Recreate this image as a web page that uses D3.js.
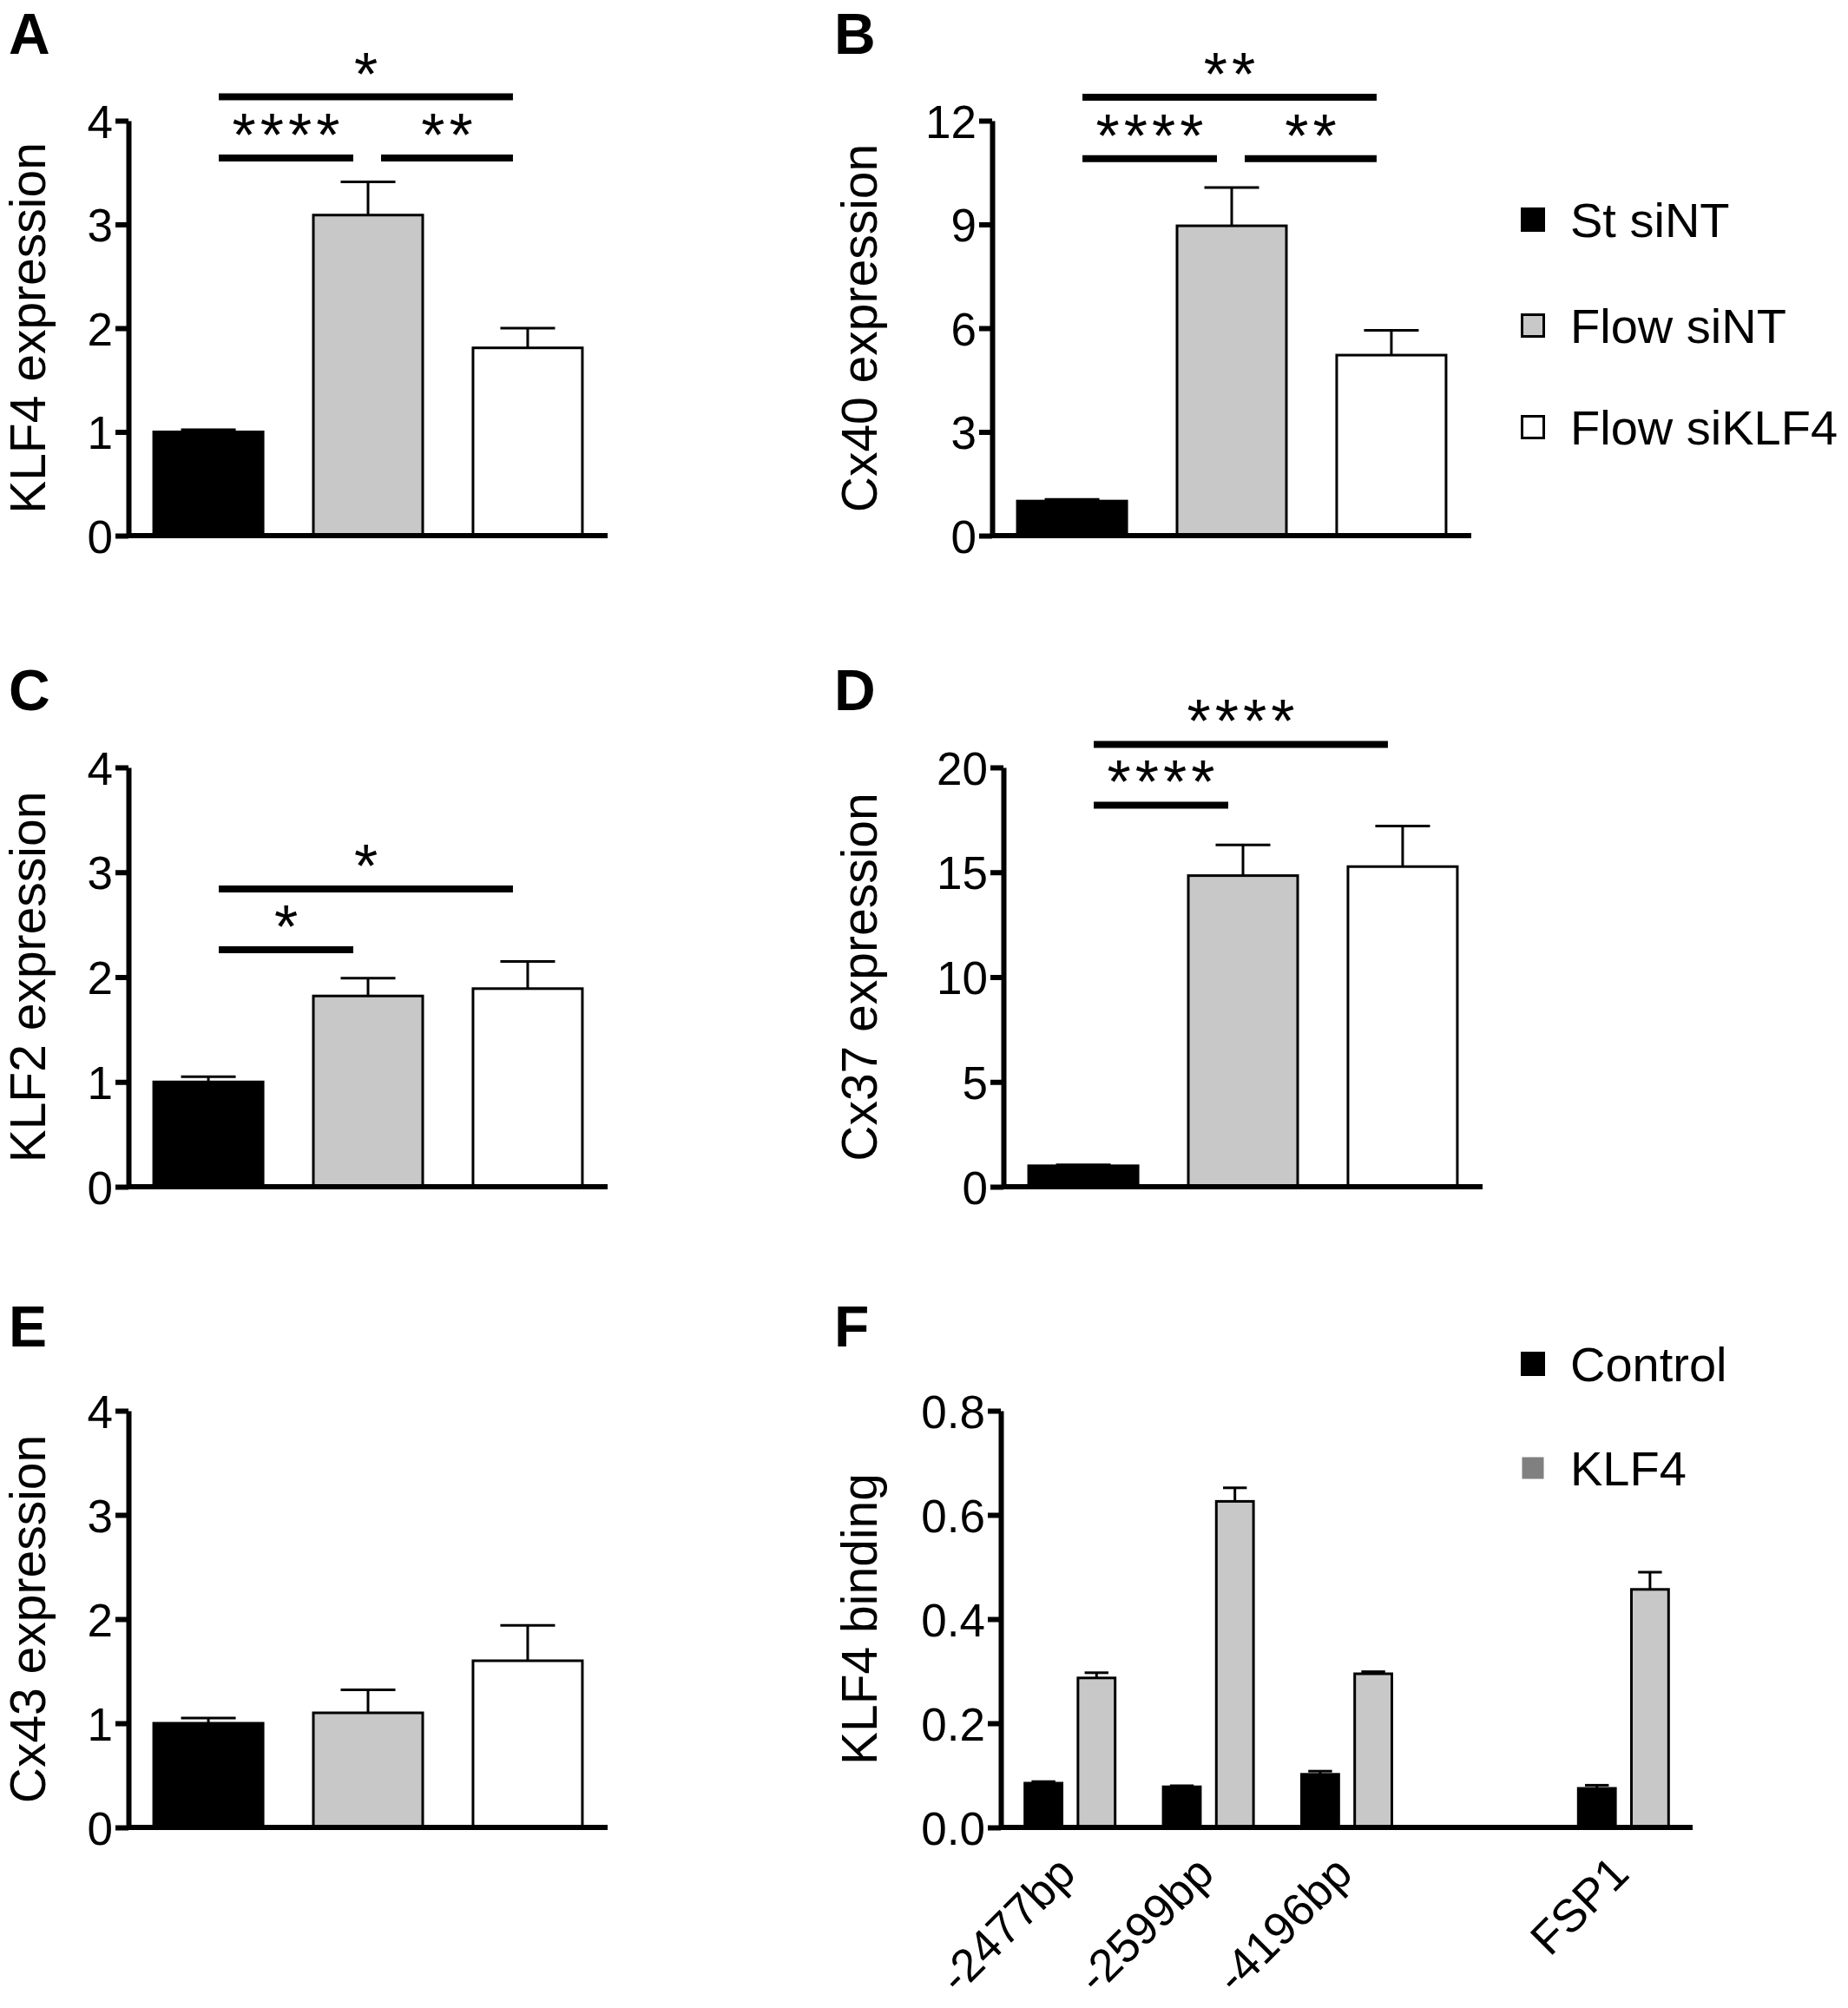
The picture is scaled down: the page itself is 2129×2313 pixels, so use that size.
<!DOCTYPE html>
<html lang="en">
<head>
<meta charset="UTF-8">
<title>KLF4 and connexin expression under flow</title>
<script src="https://d3js.org/d3.v7.min.js"></script>
<style>
  body { margin: 0; padding: 0; background: #ffffff; }
  svg { display: block; font-family: "Liberation Sans", Arial, Helvetica, sans-serif; }
</style>
</head>
<body>
<div id="chart"></div>
<script>
// ---- data (panels A-E share the three conditions) ----
const conditions = ["St siNT", "Flow siNT", "Flow siKLF4"];

const klf4Mean = [1.0, 3.09, 1.81];
const klf4Err  = [0.02, 0.32, 0.19];
const cx40Mean = [1.0, 8.96, 5.22];
const cx40Err  = [0.05, 1.11, 0.72];
const klf2Mean = [1.0, 1.82, 1.89];
const klf2Err  = [0.05, 0.17, 0.26];
const cx37Mean = [1.0, 14.84, 15.27];
const cx37Err  = [0.05, 1.46, 1.93];
const cx43Mean = [1.0, 1.10, 1.60];
const cx43Err  = [0.05, 0.22, 0.34];

// significance brackets: [from condition, to condition, bracket height (data units), label]
const klf4Sig = [[0, 2, 4.23, "*"], [0, 1, 3.64, "****"], [1, 2, 3.64, "**"]];
const cx40Sig = [[0, 2, 12.68, "**"], [0, 1, 10.9, "****"], [1, 2, 10.9, "**"]];
const klf2Sig = [[0, 2, 2.84, "*"], [0, 1, 2.26, "*"]];
const cx37Sig = [[0, 2, 21.1, "****"], [0, 1, 18.2, "****"]];

// panel F: ChIP binding
const sites = ["-2477bp", "-2599bp", "-4196bp", "FSP1"];
const siteSlot = [0, 1, 2, 4];           // FSP1 sits after an empty slot
const chipSeries = ["Control", "KLF4"];
const controlMean = [0.085, 0.078, 0.102, 0.075];
const controlErr  = [0.003, 0.002, 0.006, 0.006];
const klf4BindMean = [0.287, 0.626, 0.295, 0.457];
const klf4BindErr  = [0.010, 0.026, 0.004, 0.033];

// ---- styles / layout ----
const W = 2129, H = 2313;
const condFill = ["#000000", "#c8c8c8", "#ffffff"];
const chipFill = ["#000000", "#c8c8c8"];
const chipLegendFill = ["#000000", "#808080"];
const rows = [[139, 617], [884, 1367], [1625, 2105]];   // [top tick, zero line]
const plotW = 552;
const tickFont = 53, labelFont = 57, legendFont = 56;

const svg = d3.select("#chart").append("svg")
    .attr("width", W).attr("height", H)
    .attr("viewBox", `0 0 ${W} ${H}`);

svg.append("rect").attr("width", W).attr("height", H).attr("fill", "#fff");

function letter(t, x, y) {
  svg.append("text").attr("x", x).attr("y", y)
      .attr("font-size", 66).attr("font-weight", "bold").text(t);
}

function yAxis(g, y, axisX, ticks, fmt) {
  const ax = g.append("g")
      .attr("transform", `translate(${axisX},0)`)
      .call(d3.axisLeft(y).tickValues(ticks).tickFormat(fmt)
        .tickSize(15).tickSizeOuter(0).tickPadding(3));
  ax.select(".domain").attr("stroke", "#000").attr("stroke-width", 6);
  ax.selectAll(".tick line").attr("stroke", "#000").attr("stroke-width", 6);
  ax.selectAll(".tick text").attr("font-size", tickFont).attr("fill", "#000")
      .attr("font-family", null).attr("dy", "0.36em");
  return ax;
}

function yLabel(text, x, cy) {
  svg.append("text")
      .attr("transform", `translate(${x},${cy}) rotate(-90)`)
      .attr("text-anchor", "middle")
      .attr("font-size", labelFont)
      .text(text);
}

function barPanel(p) {
  const [top, zero] = rows[p.row];
  const g = svg.append("g");
  const y = d3.scaleLinear().domain([0, p.yMax]).range([zero, top]);
  const x = d3.scaleBand().domain(conditions)
      .range([p.axisX, p.axisX + plotW])
      .paddingInner(0.315).paddingOuter(0.158);
  const bw = x.bandwidth();
  const cx = i => x(conditions[i]) + bw / 2;

  // error bars (upper only), drawn under the bars so the stem starts at the top edge
  const eb = g.append("g").attr("stroke", "#000").attr("stroke-width", 3);
  conditions.forEach((c, i) => {
    const yt = y(p.mean[i] + p.err[i]);
    eb.append("line").attr("x1", cx(i)).attr("x2", cx(i))
        .attr("y1", y(p.mean[i])).attr("y2", yt);
    eb.append("line").attr("x1", cx(i) - bw * 0.25).attr("x2", cx(i) + bw * 0.25)
        .attr("y1", yt).attr("y2", yt);
  });

  g.selectAll("rect.bar").data(conditions).join("rect")
      .attr("class", "bar")
      .attr("x", d => x(d))
      .attr("width", bw)
      .attr("y", (d, i) => y(p.mean[i]))
      .attr("height", (d, i) => y(0) - y(p.mean[i]))
      .attr("fill", (d, i) => condFill[i])
      .attr("stroke", "#000").attr("stroke-width", 3);

  yAxis(g, y, p.axisX, p.ticks, d3.format("d"));
  g.append("line").attr("x1", p.axisX).attr("x2", p.axisX + plotW)
      .attr("y1", y(0)).attr("y2", y(0))
      .attr("stroke", "#000").attr("stroke-width", 6);

  (p.sig || []).forEach(([a, b, h, lab]) => {
    const x1 = cx(a) + (a === 0 ? 12 : 15), x2 = cx(b) - 17, yy = y(h);
    g.append("line").attr("x1", x1).attr("x2", x2).attr("y1", yy).attr("y2", yy)
        .attr("stroke", "#000").attr("stroke-width", 8);
    g.append("text").attr("x", (x1 + x2) / 2 + 2.5).attr("y", yy - 2)
        .attr("text-anchor", "middle").attr("font-size", 70)
        .attr("letter-spacing", 5).text(lab);
  });

  yLabel(p.label, p.labelX, (top + zero) / 2);
}

function legend(names, fills, x, ys) {
  names.forEach((n, i) => {
    svg.append("rect").attr("x", x + 1.5).attr("y", ys[i] - 12.5)
        .attr("width", 25).attr("height", 25)
        .attr("fill", fills[i]).attr("stroke", fills[i] === "#808080" ? "none" : "#000")
        .attr("stroke-width", 3);
    svg.append("text").attr("x", x + 57).attr("y", ys[i])
        .attr("dy", "0.36em").attr("font-size", legendFont).text(n);
  });
}

// ---- panels A-E ----
const panels = [
  { id: "A", row: 0, axisX: 148,  labelX: 52,   label: "KLF4 expression", mean: klf4Mean, err: klf4Err, yMax: 4,  ticks: [0, 1, 2, 3, 4],     sig: klf4Sig },
  { id: "B", row: 0, axisX: 1143, labelX: 1010, label: "Cx40 expression", mean: cx40Mean, err: cx40Err, yMax: 12, ticks: [0, 3, 6, 9, 12],    sig: cx40Sig },
  { id: "C", row: 1, axisX: 148,  labelX: 52,   label: "KLF2 expression", mean: klf2Mean, err: klf2Err, yMax: 4,  ticks: [0, 1, 2, 3, 4],     sig: klf2Sig },
  { id: "D", row: 1, axisX: 1156, labelX: 1010, label: "Cx37 expression", mean: cx37Mean, err: cx37Err, yMax: 20, ticks: [0, 5, 10, 15, 20],  sig: cx37Sig },
  { id: "E", row: 2, axisX: 148,  labelX: 52,   label: "Cx43 expression", mean: cx43Mean, err: cx43Err, yMax: 4,  ticks: [0, 1, 2, 3, 4] }
];
panels.forEach(barPanel);

legend(conditions, condFill, 1752, [253, 375, 492]);

// ---- panel F ----
(function () {
  const [top, zero] = rows[2];
  const axisX = 1153, axisEnd = 1950;
  const g = svg.append("g");
  const y = d3.scaleLinear().domain([0, 0.8]).range([zero, top]);
  const x = d3.scaleBand().domain(d3.range(5)).range([axisX, axisEnd]);
  const inner = d3.scaleBand().domain(chipSeries).range([-52, 52]).paddingInner(0.3);
  const bw = inner.bandwidth();
  const series = [[controlMean, controlErr], [klf4BindMean, klf4BindErr]];

  const eb = g.append("g").attr("stroke", "#000").attr("stroke-width", 3);
  sites.forEach((s, i) => {
    const gc = x(siteSlot[i]) + x.bandwidth() / 2;
    series.forEach(([m, e], k) => {
      const c = gc + inner(chipSeries[k]) + bw / 2;
      const yt = y(m[i] + e[i]);
      eb.append("line").attr("x1", c).attr("x2", c).attr("y1", y(m[i])).attr("y2", yt);
      eb.append("line").attr("x1", c - bw * 0.32).attr("x2", c + bw * 0.32)
          .attr("y1", yt).attr("y2", yt);
    });
  });

  sites.forEach((s, i) => {
    const gc = x(siteSlot[i]) + x.bandwidth() / 2;
    g.selectAll(null).data(series).join("rect")
        .attr("x", (d, k) => gc + inner(chipSeries[k]))
        .attr("width", bw)
        .attr("y", d => y(d[0][i]))
        .attr("height", d => y(0) - y(d[0][i]))
        .attr("fill", (d, k) => chipFill[k])
        .attr("stroke", "#000").attr("stroke-width", 3);
    g.append("text")
        .attr("transform", `translate(${gc + 9},${zero + 56}) rotate(-45)`)
        .attr("text-anchor", "end").attr("font-size", tickFont)
        .text(s);
  });

  yAxis(g, y, axisX, [0, 0.2, 0.4, 0.6, 0.8], d3.format(".1f"));
  g.append("line").attr("x1", axisX).attr("x2", axisEnd)
      .attr("y1", y(0)).attr("y2", y(0))
      .attr("stroke", "#000").attr("stroke-width", 6);

  yLabel("KLF4 binding", 1010, (top + zero) / 2);
  legend(chipSeries, chipLegendFill, 1752, [1571, 1691]);
})();

// panel letters
letter("A", 10, 62);
letter("B", 961, 62);
letter("C", 10, 818);
letter("D", 961, 818);
letter("E", 10, 1551);
letter("F", 961, 1551);
</script>
</body>
</html>
